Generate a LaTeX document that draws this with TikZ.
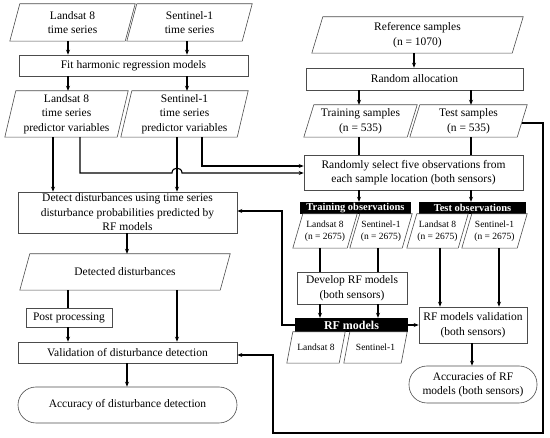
\documentclass[tikz,border=0pt]{standalone}
\usepackage{fontspec}
\setmainfont{Liberation Serif}
\usetikzlibrary{arrows.meta}
\tikzset{
  x=1pt, y=-1pt,
  boxline/.style={draw=black!70, line width=0.6pt},
  txt/.style={inner sep=0pt, align=center, font=\fontsize{11.5}{14.5}\selectfont},
  box/.style={txt, boxline},
  para/.style={txt},
  spara/.style={txt, font=\fontsize{9.5}{11.7}\selectfont},
  bar/.style={txt, fill=black, text=white, font=\bfseries\fontsize{10.5}{12}\selectfont},
  stad/.style={txt, boxline, rounded corners=18pt},
  conn/.style={line width=1.1pt, black},
  arr/.style={conn, -{Stealth[length=5pt,width=4pt]}},
}
\newcommand\drawpara[2]{\draw[boxline] ([xshift=#2pt]#1.north west) -- ([xshift=#2pt]#1.north east) -- ([xshift=-#2pt]#1.south east) -- ([xshift=-#2pt]#1.south west) -- cycle;}
\begin{document}
\begin{tikzpicture}
\useasboundingbox (0,0) rectangle (550,438);
% left column
\node[para, minimum width=115pt, minimum height=37pt] (lts) at (72.5,22.5) {Landsat 8\\time series};
\drawpara{lts}{5}
\node[para, minimum width=115pt, minimum height=37pt] (sts) at (189.5,22.5) {Sentinel-1\\time series};
\drawpara{sts}{5}
\node[box, minimum width=229pt, minimum height=21pt] (fit) at (133.5,65.5) {Fit harmonic regression models};
\node[para, minimum width=112pt, minimum height=46pt] (lpv) at (66.5,114) {Landsat 8\\time series\\predictor variables};
\drawpara{lpv}{5.5}
\node[para, minimum width=116pt, minimum height=46pt] (spv) at (184.5,114) {Sentinel-1\\time series\\predictor variables};
\drawpara{spv}{5.5}
\node[box, minimum width=219pt, minimum height=41pt] (det) at (127.5,212.5) {Detect disturbances using time series\\disturbance probabilities predicted by\\RF models};
\node[para, minimum width=200pt, minimum height=36pt] (dd) at (125,272) {Detected disturbances};
\drawpara{dd}{5}
\node[box, minimum width=86pt, minimum height=19pt] (pp) at (69,317.5) {Post processing};
\node[box, minimum width=219pt, minimum height=21pt] (val) at (127.5,352.5) {Validation of disturbance detection};
\node[stad, minimum width=219pt, minimum height=36pt] (acc) at (127.5,405) {Accuracy of disturbance detection};
% right column
\node[para, minimum width=200pt, minimum height=36pt] (ref) at (417.5,35) {Reference samples\\(n = 1070)};
\drawpara{ref}{5.5}
\node[box, minimum width=217pt, minimum height=22pt] (ral) at (414.5,79) {Random allocation};
\node[para, minimum width=103pt, minimum height=32pt] (trsam) at (360.5,121) {Training samples\\(n = 535)};
\drawpara{trsam}{5}
\node[para, minimum width=107pt, minimum height=32pt] (tesam) at (468.5,121) {Test samples\\(n = 535)};
\drawpara{tesam}{5}
\node[box, minimum width=219pt, minimum height=35pt] (rsel) at (413.5,172.5) {Randomly select five observations from\\each sample location (both sensors)};
\node[bar, minimum width=111pt, minimum height=12pt] (trob) at (355.5,208) {Training observations};
\node[bar, minimum width=107pt, minimum height=12pt] (teob) at (472.5,208) {Test observations};
\node[spara, minimum width=54pt, minimum height=34pt] (trL) at (325,231) {Landsat 8\\(n = 2675)};
\drawpara{trL}{5}
\node[spara, minimum width=52pt, minimum height=34pt] (trS) at (381,231) {Sentinel-1\\(n = 2675)};
\drawpara{trS}{5}
\node[spara, minimum width=51pt, minimum height=34pt] (teL) at (437.5,231) {Landsat 8\\(n = 2675)};
\drawpara{teL}{5}
\node[spara, minimum width=55pt, minimum height=34pt] (teS) at (494.5,231) {Sentinel-1\\(n = 2675)};
\drawpara{teS}{5}
\node[box, minimum width=110pt, minimum height=32pt] (dev) at (352,288) {Develop RF models\\(both sensors)};
\node[bar, font=\bfseries\fontsize{12}{14}\selectfont, minimum width=113pt, minimum height=14pt] (rfbar) at (351.5,325) {RF models};
\node[spara, minimum width=52pt, minimum height=31pt] (rfL) at (316,347.5) {Landsat 8};
\drawpara{rfL}{3}
\node[spara, minimum width=57pt, minimum height=31pt] (rfS) at (375.5,347.5) {Sentinel-1};
\drawpara{rfS}{3}
\node[box, minimum width=108pt, minimum height=36pt] (rfval) at (473,325) {RF models validation\\(both sensors)};
\node[stad, minimum width=128pt, minimum height=37pt] (acc2) at (473,384.5) {Accuracies of RF\\models (both sensors)};
% connectors
\draw[arr] (lts.south -| 68,0) -- (fit.north -| 68,0);
\draw[arr] (sts.south -| 187,0) -- (fit.north -| 187,0);
\draw[arr] (fit.south -| 68,0) -- (lpv.north -| 68,0);
\draw[arr] (fit.south -| 187,0) -- (spv.north -| 187,0);
\draw[arr] (lpv.south -| 53,0) -- (det.north -| 53,0);
\draw[arr] (spv.south -| 177,0) -- (det.north -| 177,0);
\draw[arr] (lpv.south -| 80,0) -- (80,173) -- (172,173) .. controls (172,166.5) and (182,166.5) .. (182,173) -- (rsel.west |- 0,173);
\draw[arr] (spv.south -| 202,0) |- (rsel.west |- 0,166);
\draw[arr] (ref.south -| 414,0) -- (ral.north -| 414,0);
\draw[arr] (ral.south -| 359,0) -- (trsam.north -| 359,0);
\draw[arr] (ral.south -| 471,0) -- (tesam.north -| 471,0);
\draw[conn] (trsam.south -| 359,0) -- (rsel.north -| 359,0);
\draw[conn] (tesam.south -| 471,0) -- (rsel.north -| 471,0);
\draw[arr] (rsel.south -| 359,0) -- (trob.north -| 359,0);
\draw[arr] (rsel.south -| 471,0) -- (teob.north -| 471,0);
\draw[conn] (trL.south -| 320,0) -- (dev.north -| 320,0);
\draw[conn] (trS.south -| 378,0) -- (dev.north -| 378,0);
\draw[arr] (dev.south -| 320,0) -- (rfbar.north -| 320,0);
\draw[arr] (dev.south -| 378,0) -- (rfbar.north -| 378,0);
\draw[arr] (teL.south -| 440,0) -- (rfval.north -| 440,0);
\draw[arr] (teS.south -| 499,0) -- (rfval.north -| 499,0);
\draw[arr] (rfbar.east) -- (rfval.west);
\draw[arr] (rfbar.west) -| (282,211) -- (det.east |- 0,211);
\draw[arr] (rfval.south -| 472,0) -- (acc2.north -| 472,0);
\draw[arr] (tesam.east |- 0,123) -- (543,123) -- (543,433) -- (273,433) -- (273,355) -- (val.east |- 0,355);
\draw[arr] (det.south -| 127,0) -- (dd.north -| 127,0);
\draw[conn] (dd.south -| 68,0) -- (pp.north -| 68,0);
\draw[arr] (pp.south -| 68,0) -- (val.north -| 68,0);
\draw[arr] (dd.south -| 177,0) -- (val.north -| 177,0);
\draw[arr] (val.south -| 127,0) -- (acc.north -| 127,0);
\end{tikzpicture}
\end{document}
